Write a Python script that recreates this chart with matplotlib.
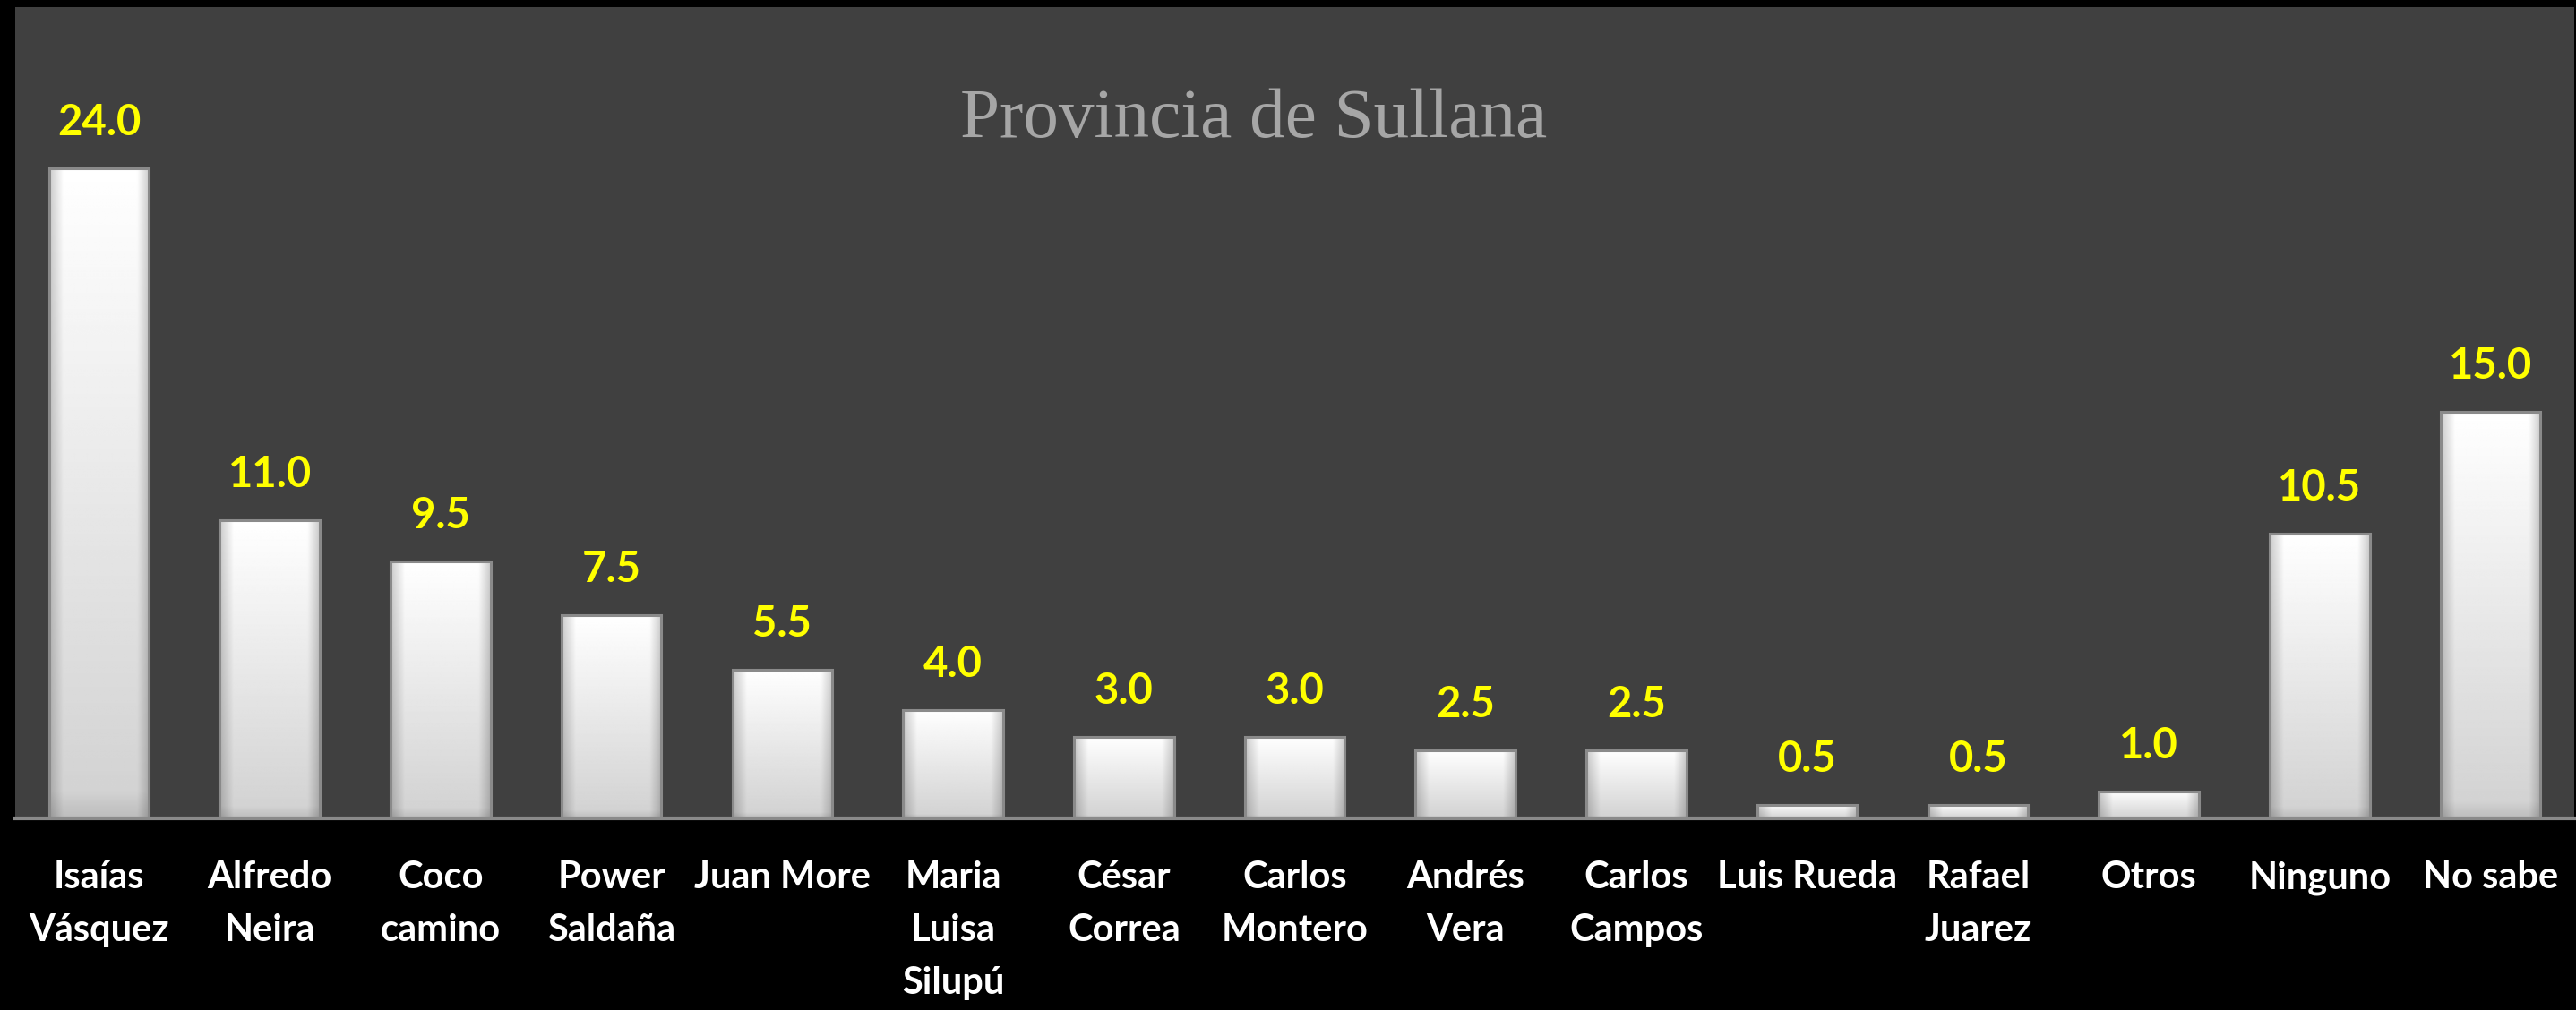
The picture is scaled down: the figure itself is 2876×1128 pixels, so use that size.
import numpy as np
import matplotlib
matplotlib.use("Agg")
import matplotlib.pyplot as plt

# ---- data ----
categories = ["Isaías\nVásquez", "Alfredo\nNeira", "Coco\ncamino", "Power\nSaldaña",
              "Juan More", "Maria\nLuisa\nSilupú", "César\nCorrea", "Carlos\nMontero",
              "Andrés\nVera", "Carlos\nCampos", "Luis Rueda", "Rafael\nJuarez",
              "Otros", "Ninguno", "No sabe"]
values = [24.0, 11.0, 9.5, 7.5, 5.5, 4.0, 3.0, 3.0, 2.5, 2.5, 0.5, 0.5, 1.0, 10.5, 15.0]
title = "Provincia de Sullana"

W, H = 2876, 1128
fig = plt.figure(figsize=(W / 100, H / 100), dpi=100, facecolor="black")
ax = fig.add_axes([17 / W, (H - 914) / H, (2874 - 17) / W, (914 - 8) / H])
ax.set_facecolor("#404040")

x = np.arange(len(values))
bars = ax.bar(x, values, width=0.585, facecolor="none", edgecolor="#8a8a8a",
              linewidth=2.2, zorder=3)

# gradient fill for each bar (bevelled white look)
ny, nx = 200, 120
s = np.linspace(0, 1, nx)
t = np.linspace(0, 1, ny)[:, None]
hprof = np.clip(np.minimum(s / 0.14, (1 - s) / 0.12), 0, 1)
hprof = 0.80 + 0.20 * hprof
vprof = 1.0 - 0.18 * t
vprof = vprof - 0.08 * np.clip((t - 0.96) / 0.04, 0, 1)
img = np.minimum(hprof[None, :], 1.0) * vprof
for r in bars:
    x0, w, h = r.get_x(), r.get_width(), r.get_height()
    ax.imshow(img, extent=[x0, x0 + w, 0, h], cmap="gray", vmin=0, vmax=1,
              aspect="auto", origin="upper", interpolation="bilinear", zorder=2)
    ax.annotate(f"{h:.1f}", xy=(x0 + w / 2, h), xytext=(0, 26.6),
                textcoords="offset points", ha="center", va="baseline",
                color="#ffff00", fontweight="bold", fontsize=34, family="Lato",
                zorder=4)

ax.set_xlim(-0.49, 14.49)
ax.set_ylim(0, 29.95)
ax.set_yticks([])
ax.set_xticks(x, categories)
ax.tick_params(axis="x", length=0, pad=34)
for lab in ax.get_xticklabels():
    lab.set_color("white")
    lab.set_fontweight("bold")
    lab.set_fontsize(30)
    lab.set_family("Lato")
    lab.set_verticalalignment("top")
    lab.set_linespacing(1.67)

for side in ["top", "left", "right"]:
    ax.spines[side].set_visible(False)
ax.spines["bottom"].set_color("#8a8a8a")
ax.spines["bottom"].set_linewidth(3)
ax.spines["bottom"].set_zorder(5)

fig.text(1400 / W, (H - 153) / H, title, ha="center", va="baseline",
         family="Liberation Serif", fontsize=57, color="#a6a6a6")

fig.savefig("out.png", dpi=100, facecolor="black")
